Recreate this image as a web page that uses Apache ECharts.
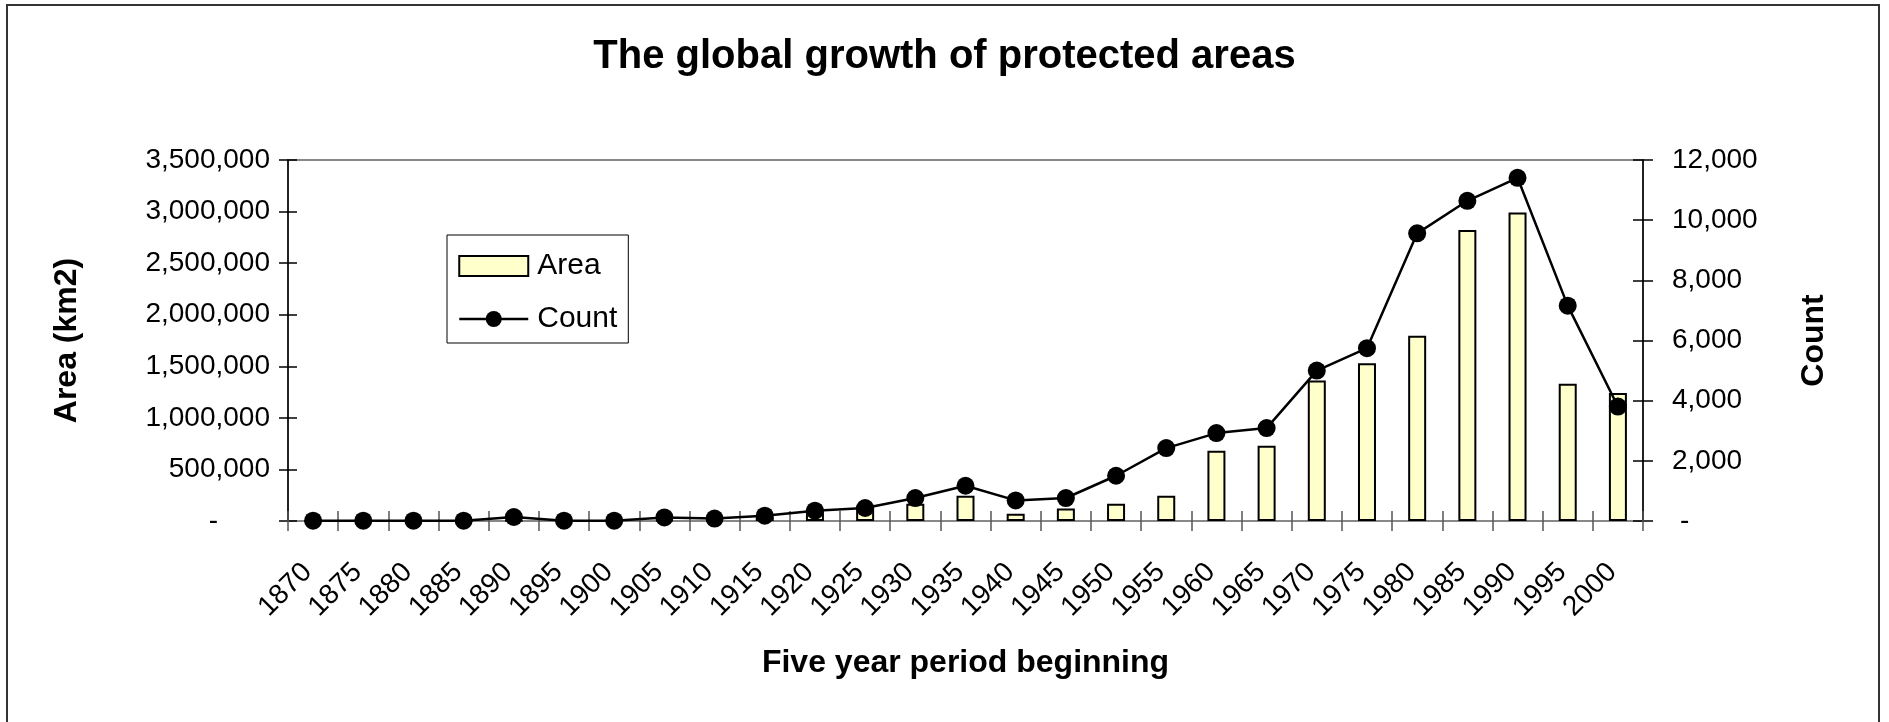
<!DOCTYPE html>
<html><head><meta charset="utf-8">
<script src="https://cdn.jsdelivr.net/npm/echarts@6/dist/echarts.min.js"></script>
<style>html,body{margin:0;padding:0;background:#fff}#c{width:1889px;height:722px}</style>
</head><body><div id="c"></div>
<script>
const categories = ['1870','1875','1880','1885','1890','1895','1900','1905','1910','1915','1920','1925','1930','1935','1940','1945','1950','1955','1960','1965','1970','1975','1980','1985','1990','1995','2000'];
const areaValues = [2000,2000,2000,2000,4000,2000,2000,10000,15000,40000,119000,148000,168000,245000,71000,122000,168000,245000,681000,729000,1362000,1530000,1795000,2822000,2990000,1330000,1240000];
const countValues = [10,10,10,10,133,10,10,120,80,176,342,432,764,1172,684,764,1504,2424,2922,3088,5000,5744,9562,10645,11408,7158,3805];
const areaAxisRange = [0, 3500000, 500000];
const countAxisRange = [0, 12000, 2000];

const FONT = '"Liberation Sans", Arial, sans-serif';
const chart = echarts.init(document.getElementById('c'), null, {renderer: 'canvas'});
const fmt = v => v.toLocaleString('en-US');
const gridPos = {left: 288, right: 246, top: 160, bottom: 201};

chart.setOption({
  backgroundColor: '#fff',
  animation: false,
  title: {
    text: 'The global growth of protected areas',
    left: 'center', top: 32,
    textStyle: {fontFamily: FONT, fontSize: 40, fontWeight: 'bold', color: '#000'}
  },
  graphic: [{
    type: 'rect', z: -1, silent: true,
    shape: {x: 7, y: 5, width: 1872, height: 740},
    style: {fill: 'none', stroke: '#333', lineWidth: 2}
  }],
  legend: {
    orient: 'vertical', left: 447, top: 235,
    padding: [14, 11, 7, 11],
    borderColor: '#000', borderWidth: 1,
    itemWidth: 69, itemHeight: 20, itemGap: 19,
    lineStyle: {width: 2.5, color: '#000'},
    textStyle: {fontFamily: FONT, fontSize: 30, color: '#000', lineHeight: 34, padding: [0, 0, 0, 4]},
    data: [{name: 'Area', icon: 'rect'}, {name: 'Count'}]
  },
  grid: Object.assign({show: true, borderColor: '#888', borderWidth: 2, backgroundColor: 'transparent', outerBoundsMode: 'none', containLabel: false}, gridPos),
  xAxis: [{
    type: 'category', data: categories, position: 'bottom',
    name: 'Five year period beginning', nameLocation: 'middle', nameGap: 126,
    nameTextStyle: {fontFamily: FONT, fontSize: 32, fontWeight: 'bold', color: '#000'},
    axisLine: {show: true, lineStyle: {color: '#888', width: 2}},
    axisTick: {show: true, length: 10, alignWithLabel: false, lineStyle: {color: '#555', width: 1.5}},
    axisLabel: {interval: 0, rotate: 45, margin: 41, fontFamily: FONT, fontSize: 28, color: '#000', padding: [0, 8, 0, 0]},
    splitLine: {show: false}
  }, {
    type: 'category', data: categories, position: 'bottom', offset: 0,
    axisLine: {show: false},
    axisTick: {show: true, inside: true, length: 10, lineStyle: {color: '#555', width: 1.5}},
    axisLabel: {show: false}, splitLine: {show: false}
  }],
  yAxis: [{
    type: 'value', position: 'left',
    min: areaAxisRange[0], max: areaAxisRange[1], interval: areaAxisRange[2],
    name: 'Area (km2)', nameLocation: 'middle', nameGap: 205, nameRotate: 90,
    nameTextStyle: {fontFamily: FONT, fontSize: 32, fontWeight: 'bold', color: '#000'},
    axisLine: {show: true, lineStyle: {color: '#000', width: 1.5}},
    axisTick: {show: true, length: 9, lineStyle: {color: '#000', width: 1.5}},
    axisLabel: {margin: 18, fontFamily: FONT, fontSize: 28, color: '#000',
      formatter: v => v === 0 ? '{z|-}' : fmt(v),
      rich: {z: {fontFamily: FONT, fontSize: 28, color: '#000', padding: [0, 52, 0, 0]}}},
    splitLine: {show: false}
  }, {
    type: 'value', position: 'right',
    min: countAxisRange[0], max: countAxisRange[1], interval: countAxisRange[2],
    name: 'Count', nameLocation: 'middle', nameGap: 155, nameRotate: 90,
    nameTextStyle: {fontFamily: FONT, fontSize: 32, fontWeight: 'bold', color: '#000'},
    axisLine: {show: true, lineStyle: {color: '#000', width: 1.5}},
    axisTick: {show: true, length: 10, lineStyle: {color: '#000', width: 1.5}},
    axisLabel: {margin: 29, fontFamily: FONT, fontSize: 28, color: '#000',
      formatter: v => v === 0 ? '{z|-}' : fmt(v),
      rich: {z: {fontFamily: FONT, fontSize: 28, color: '#000', padding: [0, 0, 0, 8]}}},
    splitLine: {show: false}
  }, {
    type: 'value', position: 'left', offset: 0,
    min: areaAxisRange[0], max: areaAxisRange[1], interval: areaAxisRange[2],
    axisLine: {show: false},
    axisTick: {show: true, inside: true, length: 9, lineStyle: {color: '#000', width: 1.5}},
    axisLabel: {show: false}, splitLine: {show: false}
  }, {
    type: 'value', position: 'right', offset: 0,
    min: countAxisRange[0], max: countAxisRange[1], interval: countAxisRange[2],
    axisLine: {show: false},
    axisTick: {show: true, inside: true, length: 10, lineStyle: {color: '#000', width: 1.5}},
    axisLabel: {show: false}, splitLine: {show: false}
  }],
  series: [{
    name: 'Area', type: 'bar', xAxisIndex: 0, yAxisIndex: 0,
    data: areaValues, barWidth: 18,
    itemStyle: {color: '#FFFFCC', borderColor: '#000', borderWidth: 2},
    z: 2
  }, {
    name: 'Count', type: 'line', xAxisIndex: 0, yAxisIndex: 1,
    data: countValues, symbol: 'circle', symbolSize: 18, showSymbol: true,
    lineStyle: {color: '#000', width: 2.5},
    itemStyle: {color: '#000'},
    z: 3
  }]
});
</script></body></html>
